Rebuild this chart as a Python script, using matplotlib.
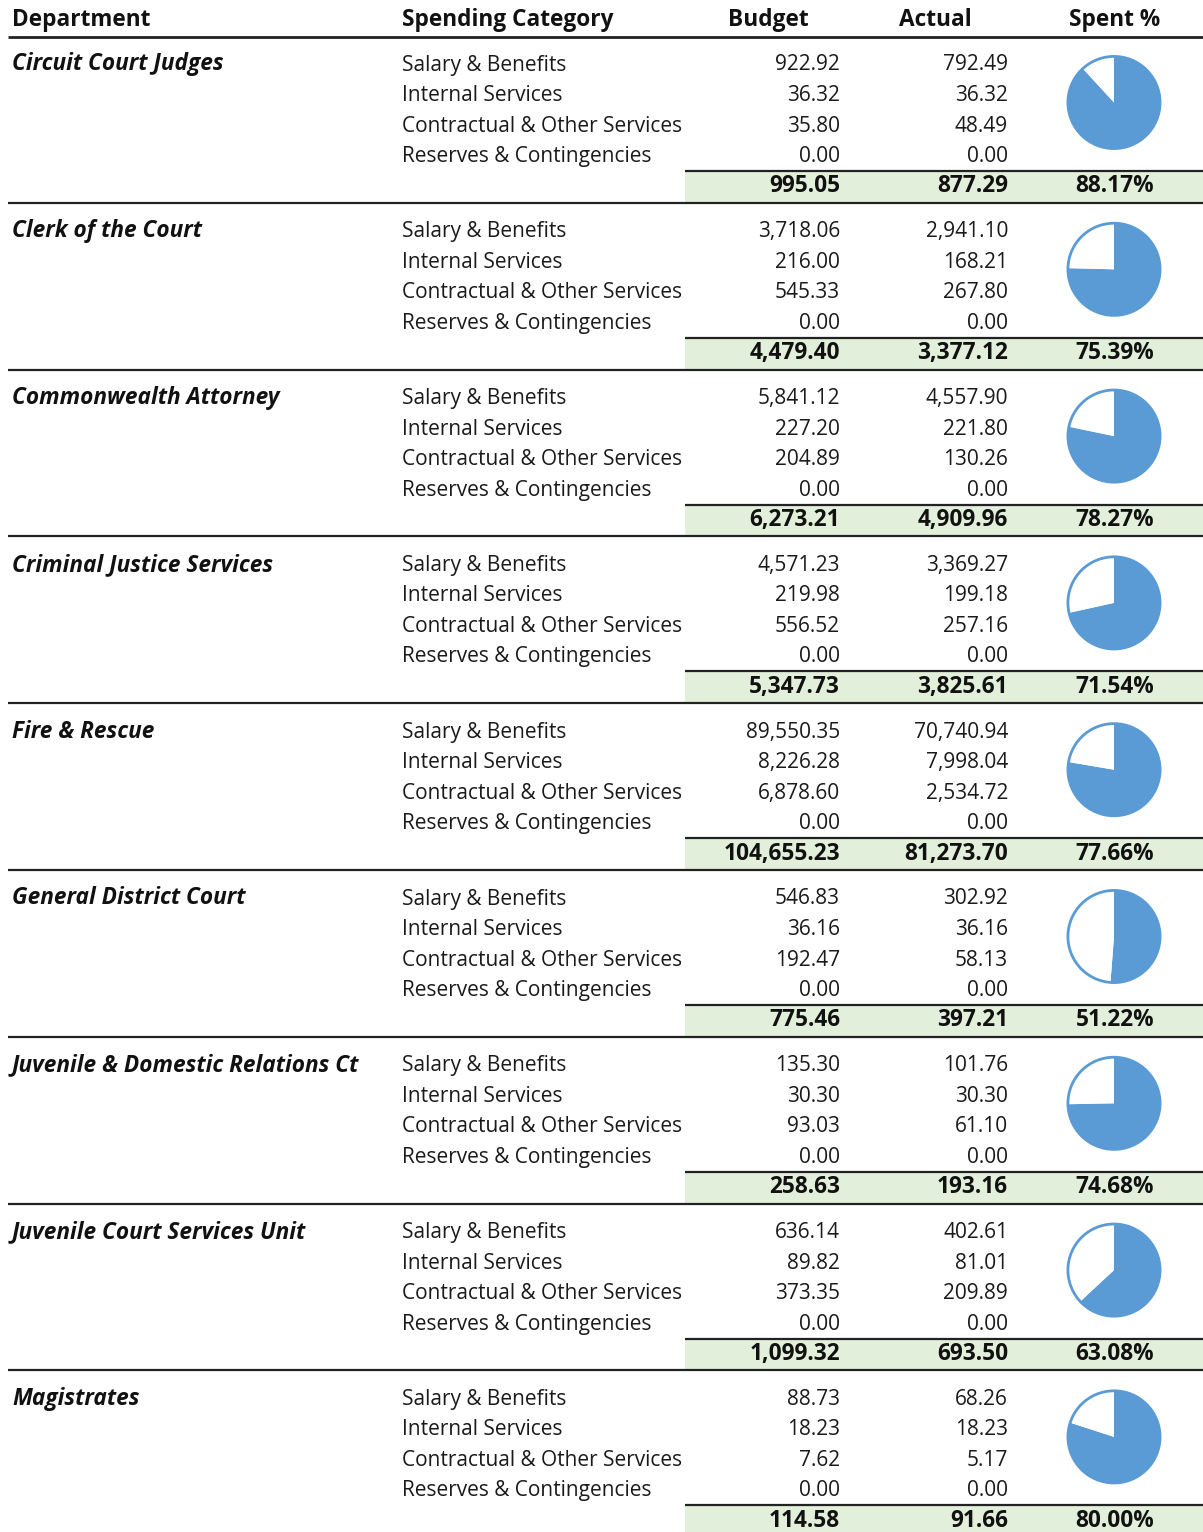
import matplotlib
matplotlib.use("Agg")
import matplotlib.pyplot as plt

departments = ["Circuit Court Judges", "Clerk of the Court", "Commonwealth Attorney",
               "Criminal Justice Services", "Fire & Rescue", "General District Court",
               "Juvenile & Domestic Relations Ct", "Juvenile Court Services Unit", "Magistrates"]
categories = ["Salary & Benefits", "Internal Services", "Contractual & Other Services",
              "Reserves & Contingencies"]
headers = ["Department", "Spending Category", "Budget", "Actual", "Spent %"]

budget = [
    [922.92, 36.32, 35.80, 0.00],
    [3718.06, 216.00, 545.33, 0.00],
    [5841.12, 227.20, 204.89, 0.00],
    [4571.23, 219.98, 556.52, 0.00],
    [89550.35, 8226.28, 6878.60, 0.00],
    [546.83, 36.16, 192.47, 0.00],
    [135.30, 30.30, 93.03, 0.00],
    [636.14, 89.82, 373.35, 0.00],
    [88.73, 18.23, 7.62, 0.00],
]
actual = [
    [792.49, 36.32, 48.49, 0.00],
    [2941.10, 168.21, 267.80, 0.00],
    [4557.90, 221.80, 130.26, 0.00],
    [3369.27, 199.18, 257.16, 0.00],
    [70740.94, 7998.04, 2534.72, 0.00],
    [302.92, 36.16, 58.13, 0.00],
    [101.76, 30.30, 61.10, 0.00],
    [402.61, 81.01, 209.89, 0.00],
    [68.26, 18.23, 5.17, 0.00],
]
budget_total = [995.05, 4479.40, 6273.21, 5347.73, 104655.23, 775.46, 258.63, 1099.32, 114.58]
actual_total = [877.29, 3377.12, 4909.96, 3825.61, 81273.70, 397.21, 193.16, 693.50, 91.66]
spent_pct = [88.17, 75.39, 78.27, 71.54, 77.66, 51.22, 74.68, 63.08, 80.00]

W, H = 1203, 1532
BLUE = "#5B9BD5"
GREEN = "#E2EFDA"
FONT = "Open Sans"
FS = 15
FSB = 16.3
BW = "bold"

fig = plt.figure(figsize=(W / 100, H / 100), dpi=100)
ax = fig.add_axes([0, 0, 1, 1])
ax.set_xlim(0, W)
ax.set_ylim(H, 0)
ax.axis("off")

X_DEPT, X_CAT, X_BUD, X_ACT, X_PCT = 12, 402, 840, 1008, 1115
HDR_X = [12, 402, 768, 935, 1115]
HDR_HA = ["left", "left", "center", "center", "center"]
for hx, ha, h in zip(HDR_X, HDR_HA, headers):
    ax.text(hx, 26, h, ha=ha, va="baseline", fontsize=FSB, fontweight=BW,
            family=FONT, color="#111111")
ax.plot([8, W], [36.5, 36.5], color="#222222", lw=2, solid_capstyle="butt")

PITCH = 166.8
row_off = [34, 64.5, 95, 125.5]
for i, dept in enumerate(departments):
    top = 36.5 + PITCH * i
    ax.text(X_DEPT, top + row_off[0], dept, ha="left", va="baseline", fontsize=FSB,
            fontweight=BW, fontstyle="italic", family=FONT, color="#111111")
    for j, cat in enumerate(categories):
        yb = top + row_off[j]
        ax.text(X_CAT, yb, cat, ha="left", va="baseline", fontsize=FS, family=FONT, color="#1a1a1a")
        ax.text(X_BUD, yb, f"{budget[i][j]:,.2f}", ha="right", va="baseline", fontsize=FS,
                family=FONT, color="#1a1a1a")
        ax.text(X_ACT, yb, f"{actual[i][j]:,.2f}", ha="right", va="baseline", fontsize=FS,
                family=FONT, color="#1a1a1a")
    band_top = top + 134.5
    band_bot = min(top + 166.3, H)
    ax.fill_between([685, W], band_top, band_bot, color=GREEN, lw=0)
    ax.plot([685, W], [band_top, band_top], color="#222222", lw=1.6, solid_capstyle="butt")
    if i < len(departments) - 1:
        ax.plot([8, W], [band_bot, band_bot], color="#222222", lw=1.6, solid_capstyle="butt")
    yt = top + 156
    ax.text(X_BUD, yt, f"{budget_total[i]:,.2f}", ha="right", va="baseline", fontsize=FSB,
            fontweight=BW, family=FONT, color="#111111")
    ax.text(X_ACT, yt, f"{actual_total[i]:,.2f}", ha="right", va="baseline", fontsize=FSB,
            fontweight=BW, family=FONT, color="#111111")
    ax.text(X_PCT, yt, f"{spent_pct[i]:.2f}%", ha="center", va="baseline", fontsize=FSB,
            fontweight=BW, family=FONT, color="#111111")

    # pie
    cx, cy, r = 1114, top + 66, 48
    pax = fig.add_axes([(cx - r) / W, 1 - (cy + r) / H, 2 * r / W, 2 * r / H])
    pax.pie([spent_pct[i], 100 - spent_pct[i]], colors=[BLUE, "white"], startangle=90,
            counterclock=False, radius=0.96,
            wedgeprops=dict(edgecolor="none", linewidth=0))
    circ = plt.Circle((0, 0), 0.96, fill=False, edgecolor=BLUE, lw=2)
    pax.add_patch(circ)
    pax.set_xlim(-1, 1)
    pax.set_ylim(-1, 1)
    pax.set_aspect("equal")
    pax.axis("off")

fig.savefig("out.png", dpi=100)
